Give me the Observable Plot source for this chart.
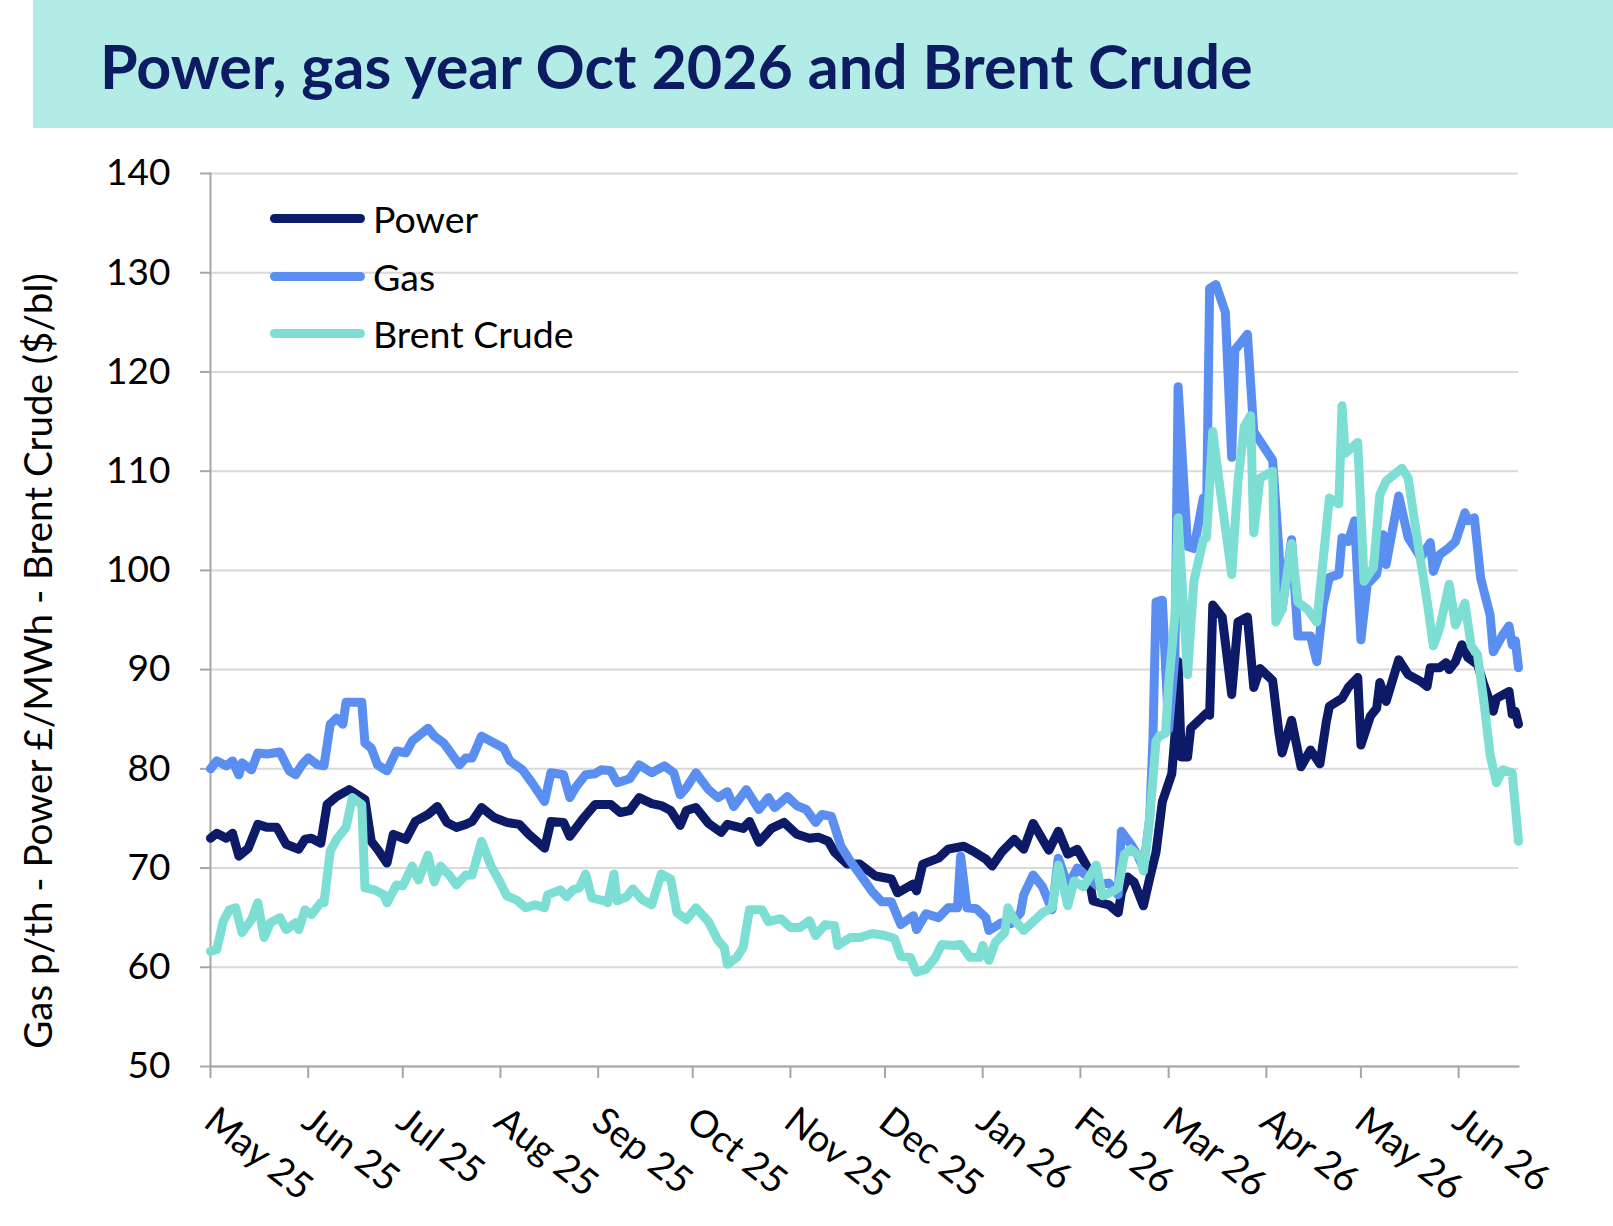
<!DOCTYPE html>
<html>
<head>
<meta charset="utf-8">
<script src="https://cdn.jsdelivr.net/npm/d3@7"></script>
<script src="https://cdn.jsdelivr.net/npm/@observablehq/plot@0.6"></script>
<style>
  html, body { margin: 0; padding: 0; background: #fff; }
  body { width: 1613px; height: 1226px; overflow: hidden; font-family: Lato, "Open Sans", sans-serif; }
  #header { position: relative; height: 128px; margin-left: 33px; background: #b3ece6; }
  #header h1 { position: absolute; left: 67px; top: 35px; margin: 0; font: 700 61px/1 Lato, sans-serif; color: #0d1b62; white-space: nowrap; }
  #chart { position: relative; width: 1613px; height: 1098px; }
  #legend { position: absolute; left: 270px; top: 0; }
  .row { position: absolute; left: 0; height: 58px; display: flex; align-items: center; white-space: nowrap; font: 400 37.5px/1.2 Lato, sans-serif; color: #000; }
  .swatch { display: inline-block; width: 95px; height: 9px; border-radius: 4.5px; margin-right: 8px; }
</style>
</head>
<body>
<div id="header"><h1>Power, gas year Oct 2026 and Brent Crude</h1></div>
<div id="chart"><div id="legend"></div></div>
<script>
// Series names and colours
const seriesNames = ["Power", "Gas", "Brent Crude"];
const seriesColors = ["#0c1a68", "#5a8ef0", "#7ddfd4"];

// Y axis ticks and x axis month ticks
const yTicks = [50, 60, 70, 80, 90, 100, 110, 120, 130, 140];
const monthTicks = ["2025-05-01","2025-06-01","2025-07-01","2025-08-01","2025-09-01","2025-10-01","2025-11-01","2025-12-01","2026-01-01","2026-02-01","2026-03-01","2026-04-01","2026-05-01","2026-06-01"];
const xStart = "2025-05-01";
const xEnd = "2026-06-20";

// Power, £/MWh
const powerDates = ["2025-05-01","2025-05-03","2025-05-06","2025-05-08","2025-05-10","2025-05-13","2025-05-16","2025-05-19","2025-05-22","2025-05-25","2025-05-29","2025-05-31","2025-06-02","2025-06-05","2025-06-07","2025-06-10","2025-06-14","2025-06-19","2025-06-21","2025-06-23","2025-06-26","2025-06-28","2025-07-02","2025-07-05","2025-07-09","2025-07-12","2025-07-15","2025-07-18","2025-07-21","2025-07-23","2025-07-26","2025-07-30","2025-08-03","2025-08-07","2025-08-10","2025-08-15","2025-08-17","2025-08-21","2025-08-23","2025-08-27","2025-08-31","2025-09-05","2025-09-08","2025-09-11","2025-09-14","2025-09-18","2025-09-21","2025-09-24","2025-09-27","2025-09-29","2025-10-02","2025-10-06","2025-10-10","2025-10-12","2025-10-17","2025-10-19","2025-10-22","2025-10-26","2025-10-30","2025-11-03","2025-11-07","2025-11-10","2025-11-13","2025-11-15","2025-11-19","2025-11-23","2025-11-28","2025-12-03","2025-12-05","2025-12-10","2025-12-11","2025-12-13","2025-12-18","2025-12-21","2025-12-26","2025-12-29","2026-01-02","2026-01-04","2026-01-07","2026-01-11","2026-01-14","2026-01-17","2026-01-22","2026-01-25","2026-01-28","2026-01-31","2026-02-03","2026-02-05","2026-02-10","2026-02-13","2026-02-14","2026-02-16","2026-02-18","2026-02-21","2026-02-23","2026-02-25","2026-02-27","2026-03-02","2026-03-03","2026-03-04","2026-03-05","2026-03-07","2026-03-08","2026-03-10","2026-03-13","2026-03-14","2026-03-15","2026-03-18","2026-03-21","2026-03-23","2026-03-26","2026-03-28","2026-03-30","2026-04-03","2026-04-05","2026-04-06","2026-04-09","2026-04-12","2026-04-15","2026-04-18","2026-04-20","2026-04-21","2026-04-25","2026-04-27","2026-04-30","2026-05-01","2026-05-04","2026-05-06","2026-05-07","2026-05-09","2026-05-13","2026-05-16","2026-05-20","2026-05-22","2026-05-23","2026-05-26","2026-05-28","2026-05-29","2026-05-31","2026-06-02","2026-06-04","2026-06-07","2026-06-09","2026-06-12","2026-06-13","2026-06-17","2026-06-18","2026-06-19","2026-06-20"];
const powerValues = [73.0,73.5,73.0,73.5,71.2,72.0,74.4,74.1,74.1,72.4,71.9,72.9,73.0,72.5,76.4,77.2,77.9,76.9,72.7,71.9,70.5,73.4,72.9,74.7,75.4,76.2,74.6,74.1,74.4,74.7,76.1,75.1,74.6,74.4,73.4,72.0,74.7,74.6,73.2,74.9,76.4,76.4,75.6,75.8,77.1,76.5,76.3,75.8,74.3,75.8,76.1,74.5,73.6,74.4,74.0,74.7,72.6,74.0,74.6,73.4,73.0,73.1,72.7,71.6,70.4,70.4,69.2,68.9,67.5,68.4,67.7,70.4,71.0,71.9,72.2,71.7,70.9,70.2,71.6,72.9,71.9,74.5,71.8,73.7,71.4,71.9,70.2,66.7,66.3,65.5,67.5,69.1,68.6,66.2,69.0,71.6,76.7,79.5,83.4,90.8,81.2,81.2,84.1,84.7,85.6,85.4,96.5,95.3,87.5,94.8,95.3,88.2,90.1,88.9,83.6,81.6,84.9,80.2,81.9,80.5,84.7,86.3,87.1,88.2,89.2,82.4,85.3,86.1,88.7,86.8,91.0,89.5,88.8,88.3,90.2,90.2,90.7,90.0,90.8,92.5,91.2,90.5,88.5,85.8,87.1,87.8,85.5,85.8,84.5];

// Gas year Oct 2026, p/th
const gasDates = ["2025-05-01","2025-05-03","2025-05-06","2025-05-08","2025-05-10","2025-05-11","2025-05-14","2025-05-16","2025-05-19","2025-05-23","2025-05-26","2025-05-28","2025-05-30","2025-06-01","2025-06-04","2025-06-06","2025-06-08","2025-06-10","2025-06-12","2025-06-13","2025-06-18","2025-06-19","2025-06-21","2025-06-23","2025-06-26","2025-06-29","2025-07-02","2025-07-04","2025-07-09","2025-07-11","2025-07-14","2025-07-19","2025-07-21","2025-07-23","2025-07-26","2025-07-30","2025-08-02","2025-08-04","2025-08-08","2025-08-11","2025-08-15","2025-08-17","2025-08-21","2025-08-23","2025-08-25","2025-08-28","2025-08-31","2025-09-02","2025-09-05","2025-09-07","2025-09-11","2025-09-14","2025-09-18","2025-09-22","2025-09-25","2025-09-27","2025-09-29","2025-10-02","2025-10-06","2025-10-09","2025-10-12","2025-10-14","2025-10-18","2025-10-22","2025-10-25","2025-10-27","2025-10-31","2025-11-03","2025-11-06","2025-11-09","2025-11-11","2025-11-14","2025-11-17","2025-11-20","2025-11-23","2025-11-27","2025-11-30","2025-12-03","2025-12-06","2025-12-10","2025-12-11","2025-12-14","2025-12-18","2025-12-21","2025-12-24","2025-12-25","2025-12-27","2025-12-30","2026-01-02","2026-01-03","2026-01-07","2026-01-10","2026-01-13","2026-01-14","2026-01-17","2026-01-20","2026-01-23","2026-01-25","2026-01-28","2026-01-31","2026-02-03","2026-02-06","2026-02-10","2026-02-13","2026-02-14","2026-02-17","2026-02-19","2026-02-21","2026-02-23","2026-02-24","2026-02-25","2026-02-27","2026-03-01","2026-03-03","2026-03-04","2026-03-07","2026-03-09","2026-03-12","2026-03-13","2026-03-14","2026-03-16","2026-03-19","2026-03-21","2026-03-22","2026-03-26","2026-03-28","2026-03-29","2026-04-03","2026-04-05","2026-04-06","2026-04-09","2026-04-11","2026-04-15","2026-04-17","2026-04-19","2026-04-21","2026-04-24","2026-04-25","2026-04-27","2026-04-29","2026-05-01","2026-05-03","2026-05-06","2026-05-08","2026-05-09","2026-05-13","2026-05-16","2026-05-20","2026-05-23","2026-05-24","2026-05-26","2026-05-29","2026-05-31","2026-06-03","2026-06-04","2026-06-06","2026-06-08","2026-06-11","2026-06-12","2026-06-15","2026-06-17","2026-06-18","2026-06-19","2026-06-20"];
const gasValues = [80.0,80.8,80.3,80.8,79.4,80.6,79.9,81.6,81.5,81.7,79.8,79.4,80.4,81.1,80.4,80.3,84.5,85.1,84.5,86.7,86.7,82.6,82.1,80.4,79.8,81.8,81.6,82.8,84.1,83.3,82.6,80.4,81.1,81.1,83.3,82.6,82.1,80.8,79.9,78.6,76.7,79.6,79.4,77.1,78.2,79.4,79.5,79.9,79.8,78.6,79.0,80.4,79.6,80.3,79.6,77.4,78.1,79.6,77.9,77.1,77.7,76.2,77.9,75.9,77.1,76.1,77.2,76.3,75.9,74.6,75.4,75.2,72.2,70.7,69.4,67.6,66.6,66.6,64.3,65.2,63.8,65.4,65.0,66.0,66.0,71.2,66.0,65.9,65.0,63.7,64.5,64.4,65.5,67.3,69.3,68.1,65.8,71.0,68.2,70.0,69.2,68.3,68.5,67.3,73.7,72.4,71.4,70.0,75.1,82.8,96.8,97.0,84.0,91.3,118.5,102.4,102.2,107.3,105.5,128.4,128.8,126.0,111.4,122.2,123.8,114.0,113.5,111.1,102.0,96.1,103.1,93.4,93.4,90.8,96.5,99.3,99.6,103.3,102.9,105.0,93.0,98.6,99.6,103.6,100.6,107.5,103.3,101.3,102.8,99.9,101.6,102.3,102.9,105.8,105.0,105.3,99.2,95.5,91.8,93.5,94.4,92.5,92.9,90.2];

// Brent Crude, $/bl
const brentDates = ["2025-05-01","2025-05-03","2025-05-05","2025-05-07","2025-05-09","2025-05-11","2025-05-14","2025-05-16","2025-05-18","2025-05-20","2025-05-23","2025-05-25","2025-05-28","2025-05-29","2025-05-31","2025-06-02","2025-06-05","2025-06-06","2025-06-08","2025-06-10","2025-06-13","2025-06-15","2025-06-18","2025-06-19","2025-06-22","2025-06-25","2025-06-26","2025-06-29","2025-07-01","2025-07-04","2025-07-06","2025-07-09","2025-07-11","2025-07-13","2025-07-16","2025-07-18","2025-07-21","2025-07-23","2025-07-26","2025-07-29","2025-08-01","2025-08-03","2025-08-06","2025-08-09","2025-08-12","2025-08-15","2025-08-16","2025-08-20","2025-08-22","2025-08-24","2025-08-26","2025-08-28","2025-08-30","2025-09-03","2025-09-04","2025-09-06","2025-09-07","2025-09-10","2025-09-12","2025-09-15","2025-09-18","2025-09-21","2025-09-24","2025-09-26","2025-09-29","2025-10-02","2025-10-06","2025-10-09","2025-10-11","2025-10-12","2025-10-15","2025-10-17","2025-10-19","2025-10-23","2025-10-25","2025-10-29","2025-11-01","2025-11-04","2025-11-07","2025-11-09","2025-11-12","2025-11-15","2025-11-16","2025-11-20","2025-11-23","2025-11-27","2025-12-01","2025-12-04","2025-12-06","2025-12-09","2025-12-11","2025-12-14","2025-12-17","2025-12-19","2025-12-23","2025-12-25","2025-12-28","2025-12-31","2026-01-01","2026-01-03","2026-01-05","2026-01-08","2026-01-09","2026-01-11","2026-01-14","2026-01-17","2026-01-20","2026-01-23","2026-01-25","2026-01-28","2026-01-30","2026-02-02","2026-02-06","2026-02-08","2026-02-11","2026-02-13","2026-02-15","2026-02-17","2026-02-20","2026-02-21","2026-02-23","2026-02-25","2026-02-26","2026-02-28","2026-03-01","2026-03-03","2026-03-04","2026-03-07","2026-03-09","2026-03-12","2026-03-13","2026-03-15","2026-03-17","2026-03-21","2026-03-23","2026-03-25","2026-03-27","2026-03-28","2026-03-30","2026-04-03","2026-04-04","2026-04-06","2026-04-09","2026-04-11","2026-04-14","2026-04-17","2026-04-19","2026-04-21","2026-04-24","2026-04-25","2026-04-26","2026-04-30","2026-05-02","2026-05-05","2026-05-07","2026-05-09","2026-05-14","2026-05-16","2026-05-19","2026-05-22","2026-05-24","2026-05-26","2026-05-29","2026-05-31","2026-06-03","2026-06-05","2026-06-07","2026-06-09","2026-06-11","2026-06-13","2026-06-15","2026-06-18","2026-06-20"];
const brentValues = [61.6,61.8,64.6,65.8,66.0,63.5,64.8,66.5,63.0,64.5,65.0,63.8,64.5,63.8,65.8,65.3,66.5,66.5,71.7,72.9,74.1,77.1,76.4,68.0,67.8,67.3,66.5,68.3,68.2,70.2,68.8,71.3,68.6,70.2,69.2,68.3,69.3,69.3,72.7,70.2,68.5,67.2,66.8,66.0,66.3,66.0,67.3,67.8,67.1,67.8,68.0,69.4,67.0,66.7,66.5,69.4,66.7,67.1,67.9,66.8,66.3,69.4,68.9,65.5,64.8,66.0,64.6,62.7,62.0,60.3,61.0,62.0,65.8,65.8,64.6,64.9,64.0,64.0,64.7,63.2,64.3,64.2,62.2,63.0,63.0,63.4,63.2,62.9,61.1,61.0,59.5,59.8,61.0,62.3,62.2,62.3,61.0,61.0,62.2,60.7,62.5,63.5,66.0,64.8,63.7,64.6,65.5,66.0,70.3,66.2,68.7,68.1,70.3,67.2,67.6,68.0,71.4,71.9,71.1,69.7,75.1,82.8,83.3,83.6,88.5,95.5,105.3,89.5,98.9,103.1,103.3,114.0,109.0,99.6,109.0,114.5,115.6,103.8,109.3,110.0,94.8,96.1,102.7,96.8,96.1,94.8,101.0,107.3,106.7,116.6,111.8,112.9,98.9,100.3,107.6,109.0,110.3,109.3,102.9,96.9,92.4,94.2,98.6,94.5,96.7,92.4,91.5,86.8,81.4,78.6,79.9,79.6,72.7];

const yTitle = "Gas p/th - Power £/MWh - Brent Crude ($/bl)";

const parse = d3.utcParse("%Y-%m-%d");
const rows = [];
[[seriesNames[0], powerDates, powerValues],
 [seriesNames[1], gasDates, gasValues],
 [seriesNames[2], brentDates, brentValues]].forEach(([name, dates, values]) => {
  dates.forEach((d, i) => rows.push({series: name, date: parse(d), value: values[i]}));
});

const axisGray = "#a6a6a6";
const monthDates = monthTicks.map(parse);

const chart = Plot.plot({
  width: 1613,
  height: 1098,
  marginTop: 45,
  marginBottom: 160,
  marginLeft: 210,
  marginRight: 95,
  style: {fontFamily: "Lato, 'Open Sans', sans-serif", fontSize: "37px", color: "#000", background: "#fff", overflow: "visible"},
  x: {type: "utc", domain: [parse(xStart), parse(xEnd)]},
  y: {domain: [50, 140]},
  color: {domain: seriesNames, range: seriesColors},
  marks: [
    Plot.gridY(yTicks, {stroke: "#d9d9d9", strokeOpacity: 1, strokeWidth: 2}),
    Plot.frame({anchor: "left", stroke: axisGray, strokeWidth: 2}),
    Plot.frame({anchor: "bottom", stroke: axisGray, strokeWidth: 2}),
    Plot.axisY(yTicks, {tickSize: 10, tickPadding: 30, stroke: axisGray, strokeWidth: 2, fill: "#000", label: null, fontSize: 37}),
    // month tick marks
    Plot.axisX(monthDates, {tickSize: 12, tickFormat: () => "", stroke: axisGray, strokeWidth: 2, label: null}),
    // rotated month labels
    Plot.axisX(monthDates, {
      tickSize: 0, tickPadding: 38, tickRotate: 38, dx: 8,
      textAnchor: "start", lineAnchor: "top",
      tickFormat: d3.utcFormat("%b %y"),
      fill: "#000", label: null, fontSize: 37.5
    }),
    Plot.text([yTitle], {text: d => d, frameAnchor: "left", rotate: -90, dx: -171, dy: 41, textAnchor: "middle", lineAnchor: "middle", fontSize: 38.5, fill: "#000"}),
    Plot.line(rows, {x: "date", y: "value", z: "series", stroke: "series", strokeWidth: 9, strokeLinejoin: "round", strokeLinecap: "round"})
  ]
});

document.getElementById("chart").prepend(chart);

// Legend rows drawn over the top-left of the plot area
const legend = document.getElementById("legend");
const legendCenters = [90, 148, 205];
seriesNames.forEach((name, i) => {
  const row = document.createElement("div");
  row.className = "row";
  row.style.top = (legendCenters[i] - 29) + "px";
  const sw = document.createElement("span");
  sw.className = "swatch";
  sw.style.background = seriesColors[i];
  row.appendChild(sw);
  row.appendChild(document.createTextNode(name));
  legend.appendChild(row);
});
</script>
</body>
</html>
